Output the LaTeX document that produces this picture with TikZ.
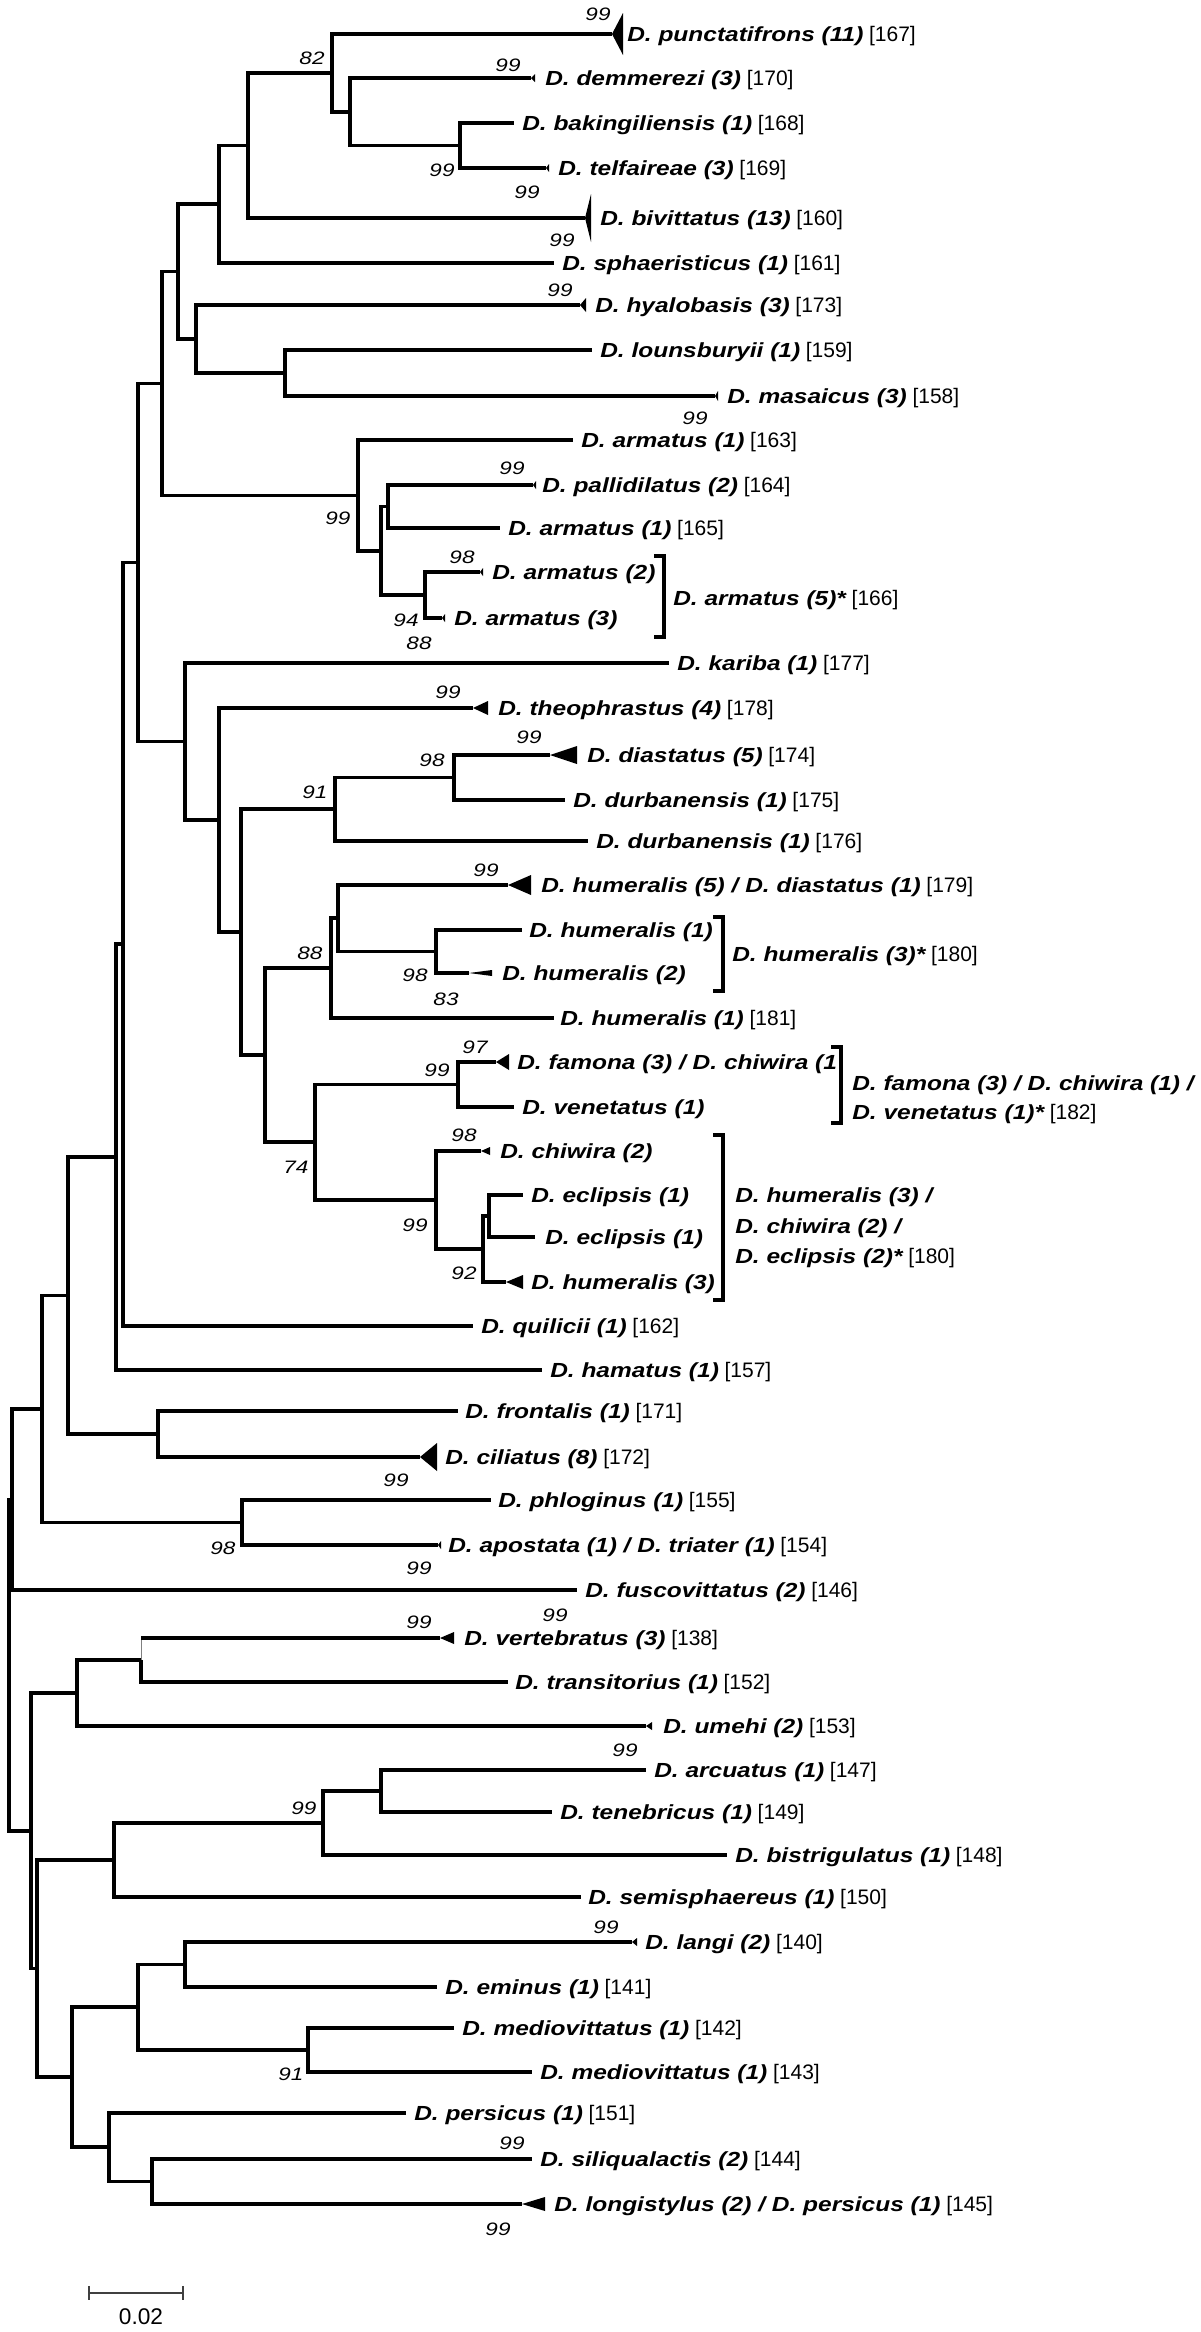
\documentclass[tikz,border=0pt]{standalone}
\usepackage{fontspec}
\setmainfont{Liberation Sans}
\newfontfamily\taxfont[FakeStretch=1.2]{Liberation Sans}
\newfontfamily\bootfont[FakeStretch=1.25]{Liberation Sans}
\newcommand{\tx}[2]{{\taxfont\bfseries\itshape #1} {\fontsize{15.75}{18}\selectfont #2}}
\newcommand{\tb}[1]{{\taxfont\bfseries\itshape #1}}
\newcommand{\clade}[3]{\draw[br] (#1) |- (#2) (#1) |- (#3);}
\newcommand{\collapse}[3]{\fill[tri] (#1) -- ++(#2,-#3) -- ++(0,{2*#3}) -- cycle;}
\newcommand{\leaf}[5]{\coordinate (#1) at (#2,#4); \node[lab] (#1-l) at (#3,#4) {#5};}
\begin{document}
\begin{tikzpicture}[x=0.75pt,y=-0.75pt,
  br/.style={line width=2.7pt},
  thinbr/.style={line width=0.7pt,gray},
  tri/.style={fill=black},
  lab/.style={anchor=base west,inner sep=0pt,yshift=-5.4pt,font=\fontsize{15.3}{18}\selectfont},
  bs/.style={inner sep=0pt,font=\bootfont\itshape\fontsize{13.5}{15}\selectfont},
  brk/.style={line width=2.7pt}]
\useasboundingbox (0,0) rectangle (1200,2332);

% tips and names
\leaf{punct}{612}{627}{34}{\tx{D. punctatifrons (11)}{[167]}}
\leaf{demm}{531}{545}{78}{\tx{D. demmerezi (3)}{[170]}}
\leaf{baki}{514}{522}{123}{\tx{D. bakingiliensis (1)}{[168]}}
\leaf{telf}{546}{558}{168}{\tx{D. telfaireae (3)}{[169]}}
\leaf{bivi}{585}{600}{218}{\tx{D. bivittatus (13)}{[160]}}
\leaf{spha}{554}{562}{263}{\tx{D. sphaeristicus (1)}{[161]}}
\leaf{hyal}{580}{595}{305}{\tx{D. hyalobasis (3)}{[173]}}
\leaf{loun}{592}{600}{350}{\tx{D. lounsburyii (1)}{[159]}}
\leaf{masa}{715}{727}{396}{\tx{D. masaicus (3)}{[158]}}
\leaf{arma}{573}{581}{440}{\tx{D. armatus (1)}{[163]}}
\leaf{pall}{533}{542}{485}{\tx{D. pallidilatus (2)}{[164]}}
\leaf{armb}{500}{508}{528}{\tx{D. armatus (1)}{[165]}}
\leaf{armc}{480}{492}{572}{\tb{D. armatus (2)}}
\leaf{armd}{442}{454}{618}{\tb{D. armatus (3)}}
\leaf{kari}{669}{677}{663}{\tx{D. kariba (1)}{[177]}}
\leaf{theo}{473}{498}{708}{\tx{D. theophrastus (4)}{[178]}}
\leaf{dias}{550}{587}{755}{\tx{D. diastatus (5)}{[174]}}
\leaf{durb}{565}{573}{800}{\tx{D. durbanensis (1)}{[175]}}
\leaf{durc}{588}{596}{841}{\tx{D. durbanensis (1)}{[176]}}
\leaf{huma}{508}{541}{885}{\tx{D. humeralis (5) / D. diastatus (1)}{[179]}}
\leaf{humb}{522}{529}{930}{\tb{D. humeralis (1)}}
\leaf{humc}{469}{502}{973}{\tb{D. humeralis (2)}}
\leaf{humd}{554}{560}{1018}{\tx{D. humeralis (1)}{[181]}}
\leaf{famo}{496}{517}{1062}{\tb{D. famona (3) / D. chiwira (1}}
\leaf{vene}{514}{522}{1107}{\tb{D. venetatus (1)}}
\leaf{chiw}{481}{500}{1151}{\tb{D. chiwira (2)}}
\leaf{ecla}{523}{531}{1195}{\tb{D. eclipsis (1)}}
\leaf{eclb}{535}{545}{1237}{\tb{D. eclipsis (1)}}
\leaf{hume}{506}{531}{1282}{\tb{D. humeralis (3)}}
\leaf{quil}{473}{481}{1326}{\tx{D. quilicii (1)}{[162]}}
\leaf{hama}{542}{550}{1370}{\tx{D. hamatus (1)}{[157]}}
\leaf{fron}{458}{465}{1411}{\tx{D. frontalis (1)}{[171]}}
\leaf{cili}{420}{445}{1457}{\tx{D. ciliatus (8)}{[172]}}
\leaf{phlo}{491}{498}{1500}{\tx{D. phloginus (1)}{[155]}}
\leaf{apos}{438}{448}{1545}{\tx{D. apostata (1) / D. triater (1)}{[154]}}
\leaf{fusc}{577}{585}{1590}{\tx{D. fuscovittatus (2)}{[146]}}
\leaf{vert}{440}{464}{1638}{\tx{D. vertebratus (3)}{[138]}}
\leaf{tran}{508}{515}{1682}{\tx{D. transitorius (1)}{[152]}}
\leaf{umeh}{646}{663}{1726}{\tx{D. umehi (2)}{[153]}}
\leaf{arcu}{646}{654}{1770}{\tx{D. arcuatus (1)}{[147]}}
\leaf{tene}{552}{560}{1812}{\tx{D. tenebricus (1)}{[149]}}
\leaf{bist}{727}{735}{1855}{\tx{D. bistrigulatus (1)}{[148]}}
\leaf{semi}{581}{588}{1897}{\tx{D. semisphaereus (1)}{[150]}}
\leaf{lang}{632}{645}{1942}{\tx{D. langi (2)}{[140]}}
\leaf{emin}{437}{445}{1987}{\tx{D. eminus (1)}{[141]}}
\leaf{meda}{454}{462}{2028}{\tx{D. mediovittatus (1)}{[142]}}
\leaf{medb}{532}{540}{2072}{\tx{D. mediovittatus (1)}{[143]}}
\leaf{pers}{406}{414}{2113}{\tx{D. persicus (1)}{[151]}}
\leaf{sili}{532}{540}{2159}{\tx{D. siliqualactis (2)}{[144]}}
\leaf{long}{522}{554}{2204}{\tx{D. longistylus (2) / D. persicus (1)}{[145]}}

% collapsed clades
\collapse{punct}{11}{21} \collapse{demm}{4}{4} \collapse{telf}{3}{4}
\collapse{bivi}{6}{24} \collapse{hyal}{6}{7} \collapse{masa}{3}{5}
\collapse{pall}{3}{4} \collapse{armc}{3}{4} \collapse{armd}{3}{4}
\collapse{theo}{15}{7} \collapse{dias}{27}{9} \collapse{huma}{23}{10}
\collapse{humc}{23}{3} \collapse{famo}{13}{8} \collapse{chiw}{9}{4}
\collapse{hume}{17}{7} \collapse{cili}{17}{14} \collapse{apos}{3}{4}
\collapse{vert}{14}{6} \collapse{umeh}{6}{4} \collapse{lang}{5}{4}
\collapse{long}{23}{7}

% internal nodes
\coordinate (nB) at (460,145.5);   \coordinate (nA) at (350,111.8);
\coordinate (n82) at (332,72.9);   \coordinate (nC) at (248,145.4);
\coordinate (nD) at (219,204.2);   \coordinate (nG) at (285,373);
\coordinate (nF) at (196,339);     \coordinate (nE) at (178,271.6);
\coordinate (nK) at (388,506.5);   \coordinate (nL) at (425,595);
\coordinate (nJ) at (381,550.8);   \coordinate (nI) at (358,495.4);
\coordinate (nH) at (162,383.5);   \coordinate (nQ) at (454,777.5);
\coordinate (nR) at (335,809.2);   \coordinate (nW) at (436,951.5);
\coordinate (nV) at (338,918.2);   \coordinate (nT) at (331,968.1);
\coordinate (nY) at (458,1084.5);  \coordinate (nAB) at (489,1216);
\coordinate (nAA) at (483,1249);   \coordinate (nZ) at (436,1200);
\coordinate (nX) at (315,1142.2);  \coordinate (nU) at (265,1055.2);
\coordinate (nS) at (241,932.2);   \coordinate (nP) at (219,820.1);
\coordinate (nO) at (185,741.5);   \coordinate (nM) at (138,562.5);
\coordinate (nN) at (123,944.2);   \coordinate (nAC) at (116,1157.1);
\coordinate (nAE) at (158,1434);   \coordinate (nAD) at (68,1295.6);
\coordinate (nAG) at (242,1522.5); \coordinate (nAF) at (42,1409);
\coordinate (nAH) at (12,1499.5);  \coordinate (nAI) at (141,1660);
\coordinate (nAJ) at (77,1693);    \coordinate (nAO) at (381,1791);
\coordinate (nAN) at (323,1823);   \coordinate (nAM) at (114,1860);
\coordinate (nAS) at (185,1964.5); \coordinate (nAT) at (308,2050);
\coordinate (nAP) at (138,2007.2); \coordinate (nAU) at (152,2181.5);
\coordinate (nAR) at (109,2147.2); \coordinate (nAQ) at (72,2077.2);
\coordinate (nAL) at (37,1968.6);  \coordinate (nAK) at (31,1830.8);
\coordinate (root) at (9,1665);

% branches
\clade{nB}{baki}{telf}  \clade{nA}{demm}{nB}  \clade{n82}{punct}{nA}
\clade{nC}{n82}{bivi}   \clade{nD}{nC}{spha}  \clade{nG}{loun}{masa}
\clade{nF}{hyal}{nG}    \clade{nE}{nD}{nF}    \clade{nK}{pall}{armb}
\clade{nL}{armc}{armd}  \clade{nJ}{nK}{nL}    \clade{nI}{arma}{nJ}
\clade{nH}{nE}{nI}      \clade{nQ}{dias}{durb} \clade{nR}{nQ}{durc}
\clade{nW}{humb}{humc}  \clade{nV}{huma}{nW}  \clade{nT}{nV}{humd}
\clade{nY}{famo}{vene}  \clade{nAB}{ecla}{eclb} \clade{nAA}{nAB}{hume}
\clade{nZ}{chiw}{nAA}   \clade{nX}{nY}{nZ}    \clade{nU}{nT}{nX}
\clade{nS}{nR}{nU}      \clade{nP}{theo}{nS}  \clade{nO}{kari}{nP}
\clade{nM}{nH}{nO}      \clade{nN}{nM}{quil}  \clade{nAC}{nN}{hama}
\clade{nAE}{fron}{cili} \clade{nAD}{nAC}{nAE} \clade{nAG}{phlo}{apos}
\clade{nAF}{nAD}{nAG}   \clade{nAH}{nAF}{fusc}
\draw[thinbr] (nAI) -- (nAI |- vert);
\draw[br] (nAI |- vert) -- (vert) (nAI) |- (tran);
\clade{nAJ}{nAI}{umeh}  \clade{nAO}{arcu}{tene} \clade{nAN}{nAO}{bist}
\clade{nAM}{nAN}{semi}  \clade{nAS}{lang}{emin} \clade{nAT}{meda}{medb}
\clade{nAP}{nAS}{nAT}   \clade{nAU}{sili}{long} \clade{nAR}{pers}{nAU}
\clade{nAQ}{nAP}{nAR}   \clade{nAL}{nAM}{nAQ}   \clade{nAK}{nAJ}{nAL}
\clade{root}{nAH}{nAK}

% brackets
\coordinate (bk1t) at (664,556);  \coordinate (bk1b) at (664,637);
\coordinate (bk2t) at (723,917);  \coordinate (bk2b) at (723,991);
\coordinate (bk3t) at (841,1047); \coordinate (bk3b) at (841,1123);
\coordinate (bk4t) at (723,1135); \coordinate (bk4b) at (723,1300);
\foreach \b in {bk1,bk2,bk3,bk4}
  \draw[brk] ([xshift=-7.5pt]\b t) -- (\b t) -- (\b b) -- ([xshift=-7.5pt]\b b);
\node[lab] (bk1-l) at (673,598) {\tx{D. armatus (5)*}{[166]}};
\node[lab] (bk2-l) at (732,954) {\tx{D. humeralis (3)*}{[180]}};
\node[lab] (bk3-la) at (852,1083) {\tb{D. famona (3) / D. chiwira (1) /}};
\node[lab] (bk3-lb) at (852,1112) {\tx{D. venetatus (1)*}{[182]}};
\node[lab] (bk4-la) at (735,1195) {\tb{D. humeralis (3) /}};
\node[lab] (bk4-lb) at (735,1226) {\tb{D. chiwira (2) /}};
\node[lab] (bk4-lc) at (735,1256) {\tx{D. eclipsis (2)*}{[180]}};

% bootstrap values
\foreach \x/\y/\v [count=\i] in {598/14/99, 312/58/82, 508/65/99, 442/170/99,
  527/192/99, 562/240/99, 560/290/99, 695/418/99, 338/518/99, 512/468/99,
  462/557/98, 406/620/94, 419/643/88, 448/692/99, 529/737/99, 432/760/98,
  315/792/91, 486/870/99, 310/953/88, 415/975/98, 446/999/83, 475/1047/97,
  437/1070/99, 296/1167/74, 464/1135/98, 415/1225/99, 464/1273/92,
  396/1480/99, 223/1548/98, 419/1568/99, 555/1615/99, 419/1622/99,
  304/1808/99, 625/1750/99, 606/1927/99, 291/2074/91, 512/2143/99, 498/2229/99}
  \node[bs] (s\i) at (\x,\y) {\v};

% scale bar
\coordinate (sbL) at (89,2293); \coordinate (sbR) at (183,2293);
\draw[line width=0.8pt,black!75] (sbL) -- (sbR)
  ([yshift=5.3pt]sbL) -- ([yshift=-5.3pt]sbL) ([yshift=5.3pt]sbR) -- ([yshift=-5.3pt]sbR);
\node[font=\fontsize{17}{20}\selectfont,inner sep=0pt] (sbt) at (141,2317) {0.02};
\end{tikzpicture}
\end{document}
